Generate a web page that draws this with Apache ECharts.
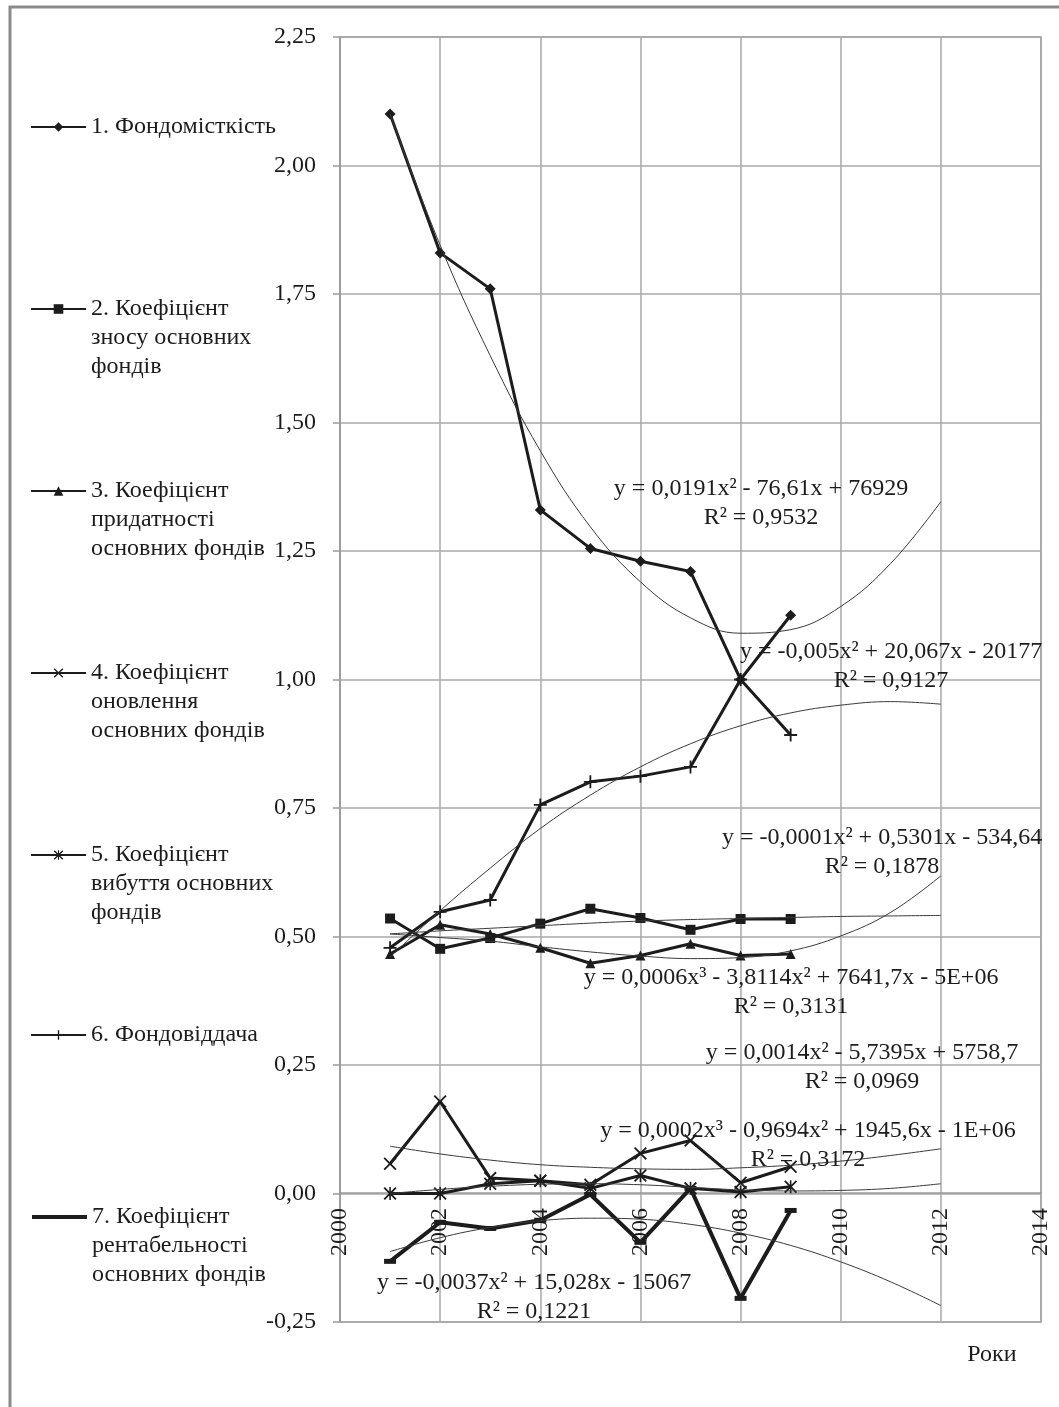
<!DOCTYPE html>
<html>
<head>
<meta charset="utf-8">
<script src="https://cdn.jsdelivr.net/npm/echarts@6/dist/echarts.min.js"></script>
<style>
  html, body { margin: 0; padding: 0; background: #fff; }
  #chart { width: 1059px; height: 1407px; }
</style>
</head>
<body>
<div id="chart"></div>
<script>
// years with data and years covered by the trend curves
const years = [2001, 2002, 2003, 2004, 2005, 2006, 2007, 2008, 2009];
const trendYears = [2001, 2002, 2003, 2004, 2005, 2006, 2007, 2008, 2009, 2010, 2011, 2012];

const seriesNames = [
  "1. Фондомісткість",
  "2. Коефіцієнт зносу основних фондів",
  "3. Коефіцієнт придатності основних фондів",
  "4. Коефіцієнт оновлення основних фондів",
  "5. Коефіцієнт вибуття основних фондів",
  "6. Фондовіддача",
  "7. Коефіцієнт рентабельності основних фондів"
];
const legendLines = [
  ["1. Фондомісткість"],
  ["2. Коефіцієнт", "зносу основних", "фондів"],
  ["3. Коефіцієнт", "придатності", "основних фондів"],
  ["4. Коефіцієнт", "оновлення", "основних фондів"],
  ["5. Коефіцієнт", "вибуття основних", "фондів"],
  ["6. Фондовіддача"],
  ["7. Коефіцієнт", "рентабельності", "основних фондів"]
];

// values
const fondomistkist = [2.10, 1.83, 1.76, 1.33, 1.255, 1.23, 1.21, 1.00, 1.125];
const znos = [0.535, 0.476, 0.497, 0.525, 0.554, 0.536, 0.513, 0.534, 0.534];
const prydatnist = [0.466, 0.523, 0.505, 0.478, 0.448, 0.463, 0.486, 0.463, 0.466];
const onovlennia = [0.058, 0.179, 0.030, 0.025, 0.017, 0.078, 0.103, 0.021, 0.052];
const vybuttia = [0.000, 0.000, 0.019, 0.025, 0.010, 0.035, 0.010, 0.003, 0.013];
const fondovidd = [0.478, 0.548, 0.571, 0.756, 0.801, 0.812, 0.830, 1.000, 0.892];
const rentab = [-0.132, -0.056, -0.068, -0.052, -0.002, -0.095, 0.010, -0.204, -0.033];

// trend curves as they appear in the picture
const trendFondomistkist = [2.10, 1.845, 1.63, 1.445, 1.297, 1.19, 1.12, 1.09, 1.097, 1.142, 1.226, 1.346];
const trendZnos = [0.505, 0.511, 0.516, 0.521, 0.526, 0.530, 0.533, 0.535, 0.537, 0.539, 0.540, 0.541];
const trendPrydatnist = [0.505, 0.498, 0.491, 0.480, 0.470, 0.462, 0.457, 0.459, 0.472, 0.501, 0.547, 0.618];
const trendOnovlennia = [0.092, 0.077, 0.065, 0.056, 0.051, 0.048, 0.047, 0.050, 0.055, 0.063, 0.074, 0.087];
const trendVybuttia = [0.000, 0.008, 0.014, 0.018, 0.019, 0.017, 0.012, 0.007, 0.005, 0.006, 0.010, 0.019];
const trendFondovidd = [0.46, 0.55, 0.633, 0.71, 0.775, 0.83, 0.875, 0.91, 0.935, 0.95, 0.957, 0.952];
const trendRentab = [-0.113, -0.086, -0.066, -0.053, -0.048, -0.050, -0.060, -0.077, -0.101, -0.133, -0.172, -0.218];

const equations = [
  ["y = 0,0191x² - 76,61x + 76929", "R² = 0,9532"],
  ["y = -0,005x² + 20,067x - 20177", "R² = 0,9127"],
  ["y = -0,0001x² + 0,5301x - 534,64", "R² = 0,1878"],
  ["y = 0,0006x³ - 3,8114x² + 7641,7x - 5E+06", "R² = 0,3131"],
  ["y = 0,0014x² - 5,7395x + 5758,7", "R² = 0,0969"],
  ["y = 0,0002x³ - 0,9694x² + 1945,6x - 1E+06", "R² = 0,3172"],
  ["y = -0,0037x² + 15,028x - 15067", "R² = 0,1221"]
];

const FONT = '"Liberation Serif", "Times New Roman", serif';
const FS = 24;
const INK = "#1c1c1c";

const xPath = "path://M0,1L1,0L5,4L9,0L10,1L6,5L10,9L9,10L5,6L1,10L0,9L4,5Z";
const plusPath = "path://M4.3,0H5.7V4.3H10V5.7H5.7V10H4.3V5.7H0V4.3H4.3Z";
const starPath = "path://M0,1L1,0L5,4L9,0L10,1L6,5L10,9L9,10L5,6L1,10L0,9L4,5ZM4.4,0H5.6V10H4.4Z";

const pairs = (xs, ys) => xs.map((x, i) => [x, ys[i]]);

const dataSets = [fondomistkist, znos, prydatnist, onovlennia, vybuttia, fondovidd, rentab];
const trendSets = [trendFondomistkist, trendZnos, trendPrydatnist, trendOnovlennia, trendVybuttia, trendFondovidd, trendRentab];
const symbols = ["diamond", "rect", "triangle", xPath, starPath, plusPath, "rect"];
const symbolSizes = [11, 10, 10, 13, 13, 13, [12, 5]];

const chart = echarts.init(document.getElementById("chart"));

const series = [];
trendSets.forEach((t, i) => {
  series.push({
    name: "trend" + i,
    type: "line",
    data: pairs(trendYears, t),
    smooth: 0.4,
    symbol: "none",
    silent: true,
    z: 3,
    lineStyle: { color: "#3a3a3a", width: 1 }
  });
});
dataSets.forEach((d, i) => {
  series.push({
    name: seriesNames[i],
    type: "line",
    data: pairs(years, d),
    symbol: symbols[i],
    symbolSize: symbolSizes[i],
    z: 2,
    lineStyle: { color: INK, width: i === 6 ? 4 : 3 },
    itemStyle: { color: INK, borderWidth: 0 }
  });
});

// one legend block per series so the icon sits on the first text line
const iconY = [127, 309, 491, 673, 855, 1035, 1217];
const LH = 29;
const legends = legendLines.map((lines, i) => {
  const blank = "\n".repeat(lines.length - 1);
  const textH = LH * (2 * lines.length - 1);
  return {
    data: [seriesNames[i]],
    orient: "vertical",
    left: 30,
    top: iconY[i] - textH / 2,
    padding: 0,
    itemWidth: 55,
    itemHeight: i === 6 ? 4 : 12,
    selectedMode: false,
    lineStyle: { width: i === 6 ? 4 : 2 },
    formatter: () => blank + lines.join("\n"),
    textStyle: { fontFamily: FONT, fontSize: FS, color: INK, lineHeight: LH }
  };
});

const eqPos = [[761, 489], [891, 652], [882, 838], [791, 978], [862, 1053], [808, 1131], [534, 1283]];
const graphics = [
  {
    type: "rect",
    shape: { x: 10, y: 7, width: 1100, height: 1500 },
    style: { fill: "none", stroke: "#8a8a8a", lineWidth: 3 },
    silent: true
  },
  {
    type: "text",
    x: 992, y: 1355,
    style: { text: "Роки", font: FS + "px " + FONT, fill: INK, textAlign: "center", textVerticalAlign: "middle" }
  }
];
equations.forEach((eq, i) => {
  graphics.push({
    type: "text",
    x: eqPos[i][0], y: eqPos[i][1] - LH / 2,
    z: 10,
    style: {
      text: eq.join("\n"),
      font: FS + "px " + FONT,
      lineHeight: LH,
      fill: INK,
      textAlign: "center",
      textVerticalAlign: "top"
    }
  });
});

const option = {
  backgroundColor: "#fff",
  animation: false,
  grid: {
    left: 340, top: 37, right: 18, bottom: 85,
    show: true, borderColor: "#9a9a9a", borderWidth: 1.5
  },
  xAxis: {
    type: "value",
    min: 2000, max: 2014, interval: 2,
    // axis is moved up to the zero line of the value axis
    offset: -129,
    axisLine: { onZero: false, lineStyle: { color: "#9a9a9a", width: 1.5 } },
    axisTick: { show: false },
    splitLine: { show: true, lineStyle: { color: "#a8a8a8", width: 1.5 } },
    axisLabel: {
      rotate: 90, margin: 15, color: INK,
      fontFamily: FONT, fontSize: FS,
      formatter: v => String(v)
    }
  },
  yAxis: {
    type: "value",
    min: -0.25, max: 2.25, interval: 0.25,
    axisLine: { show: true, lineStyle: { color: "#9a9a9a", width: 1.5 } },
    axisTick: { show: true, length: 7, lineStyle: { color: "#9a9a9a", width: 1.5 } },
    splitLine: { show: true, lineStyle: { color: "#a8a8a8", width: 1.5 } },
    axisLabel: {
      margin: 24, color: INK, fontFamily: FONT, fontSize: FS,
      formatter: v => v.toFixed(2).replace(".", ",")
    }
  },
  legend: legends,
  graphic: graphics,
  series: series
};

chart.setOption(option);
</script>
</body>
</html>
